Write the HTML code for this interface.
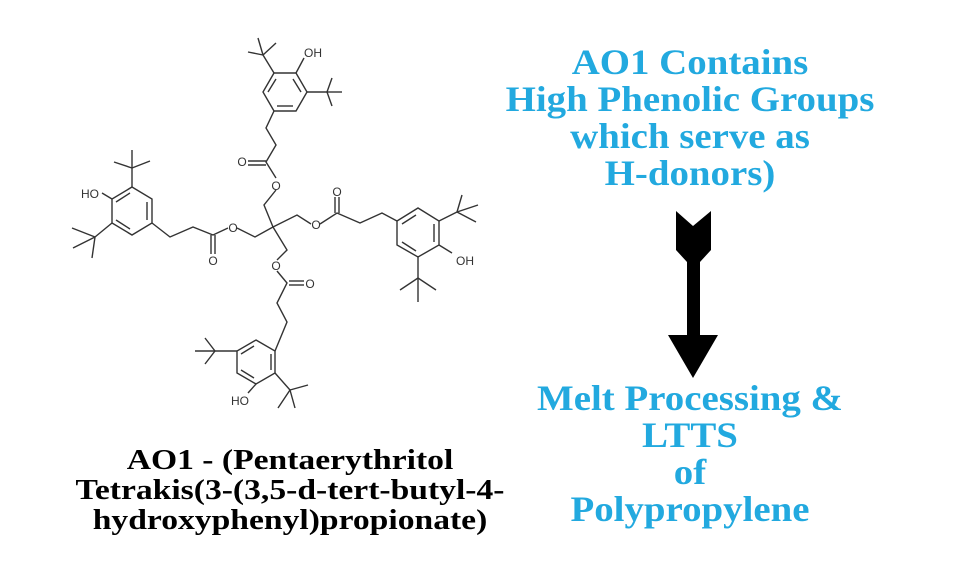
<!DOCTYPE html>
<html><head><meta charset="utf-8"><style>
html,body{margin:0;padding:0;background:#fff;width:955px;height:576px;overflow:hidden}
.b{position:absolute;left:480px;width:420px;text-align:center;color:#22a9df;font-family:"Liberation Serif",serif;font-weight:bold;font-size:36px;line-height:37px;transform:scaleX(1.08);transform-origin:50% 0}
.c{position:absolute;left:40px;width:500px;text-align:center;color:#000;font-family:"Liberation Serif",serif;font-weight:bold;font-size:28px;line-height:30px;transform:scaleX(1.2);transform-origin:50% 0}
</style></head><body>
<svg width="955" height="576" style="position:absolute;left:0;top:0">
<g stroke="#333" stroke-width="1.4" fill="none">
<polygon points="296,73 307,92 296,111 274,111 263,92 274,73"/>
<line x1="293" y1="79" x2="301" y2="92"/><line x1="277" y1="106" x2="293" y2="106"/><line x1="268" y1="92" x2="276" y2="79"/>
<line x1="296" y1="73" x2="304" y2="58"/>
<line x1="274" y1="73" x2="263" y2="55"/><line x1="263" y1="55" x2="248" y2="52"/><line x1="263" y1="55" x2="258" y2="38"/><line x1="263" y1="55" x2="276" y2="43"/>
<line x1="307" y1="92" x2="327" y2="92"/><line x1="327" y1="92" x2="342" y2="92"/><line x1="327" y1="92" x2="332" y2="78"/><line x1="327" y1="92" x2="332" y2="106"/>
<polyline points="274,111 266,128 276,145 266,162 276,178"/>
<line x1="266" y1="161" x2="248" y2="161"/><line x1="266" y1="165" x2="248" y2="165"/>
<polyline points="276,190 264,205 273,227"/>
<polyline points="273,227 255,237 237,228"/>
<polyline points="228,228 213,235 193,227 170,237 152,223"/>
<line x1="211" y1="235" x2="211" y2="254"/><line x1="215" y1="235" x2="215" y2="254"/>
<polygon points="132,187 152,199 152,223 132,235 112,223 112,199"/>
<line x1="147" y1="202" x2="147" y2="220"/><line x1="116" y1="220" x2="130" y2="229"/><line x1="116" y1="202" x2="130" y2="193"/>
<line x1="112" y1="199" x2="102" y2="193"/>
<line x1="132" y1="187" x2="132" y2="168"/><line x1="132" y1="168" x2="132" y2="150"/><line x1="132" y1="168" x2="114" y2="162"/><line x1="132" y1="168" x2="150" y2="161"/>
<line x1="112" y1="223" x2="95" y2="237"/><line x1="95" y1="237" x2="72" y2="228"/><line x1="95" y1="237" x2="73" y2="248"/><line x1="95" y1="237" x2="92" y2="258"/>
<polyline points="273,227 297,215 311,224"/>
<polyline points="320,224 337,213 360,223 382,213 397,221"/>
<line x1="335" y1="213" x2="335" y2="197"/><line x1="339" y1="213" x2="339" y2="197"/>
<polygon points="397,221 418,208 439,221 439,245 418,257 397,245"/>
<line x1="402" y1="224" x2="416" y2="215"/><line x1="434" y1="224" x2="434" y2="242"/><line x1="402" y1="242" x2="416" y2="251"/>
<line x1="439" y1="245" x2="452" y2="253"/>
<line x1="439" y1="221" x2="457" y2="212"/><line x1="457" y1="212" x2="462" y2="195"/><line x1="457" y1="212" x2="478" y2="205"/><line x1="457" y1="212" x2="476" y2="222"/>
<line x1="418" y1="257" x2="418" y2="278"/><line x1="418" y1="278" x2="400" y2="290"/><line x1="418" y1="278" x2="436" y2="290"/><line x1="418" y1="278" x2="418" y2="302"/>
<polyline points="273,227 287,250 277,260"/>
<polyline points="277,271 287,283 277,303 287,322 275,351"/>
<line x1="289" y1="281" x2="304" y2="281"/><line x1="289" y1="285" x2="304" y2="285"/>
<polygon points="256,340 275,351 275,373 256,384 237,373 237,351"/>
<line x1="241" y1="354" x2="254" y2="346"/><line x1="241" y1="370" x2="254" y2="378"/><line x1="271" y1="354" x2="271" y2="370"/>
<line x1="237" y1="351" x2="215" y2="351"/><line x1="215" y1="351" x2="195" y2="351"/><line x1="215" y1="351" x2="205" y2="338"/><line x1="215" y1="351" x2="205" y2="364"/>
<line x1="256" y1="384" x2="248" y2="393"/>
<line x1="275" y1="373" x2="290" y2="390"/><line x1="290" y1="390" x2="308" y2="385"/><line x1="290" y1="390" x2="295" y2="408"/><line x1="290" y1="390" x2="278" y2="408"/>
</g>
<g font-family="Liberation Sans,sans-serif" font-size="12" fill="#333" text-anchor="middle">
<text x="313" y="57">OH</text><text x="242" y="166">O</text><text x="276" y="190">O</text>
<text x="90" y="198">HO</text><text x="233" y="232">O</text><text x="213" y="265">O</text>
<text x="316" y="229">O</text><text x="337" y="196">O</text><text x="465" y="265">OH</text>
<text x="276" y="270">O</text><text x="310" y="288">O</text><text x="240" y="405">HO</text>
</g>
<g fill="#000">
<polygon points="676,211 693,226 711,211 711,250 700,262 700,335 718,335 693,378 668,335 687,335 687,262 676,250"/>
</g>
</svg>
<div class="b" style="top:44px">AO1 Contains<br>High Phenolic Groups<br>which serve as<br>H-donors)</div>
<div class="b" style="top:380px">Melt Processing &amp;<br>LTTS<br>of<br>Polypropylene</div>
<div class="c" style="top:446px">AO1 - (Pentaerythritol<br>Tetrakis(3-(3,5-d-tert-butyl-4-<br>hydroxyphenyl)propionate)</div>
</body></html>
